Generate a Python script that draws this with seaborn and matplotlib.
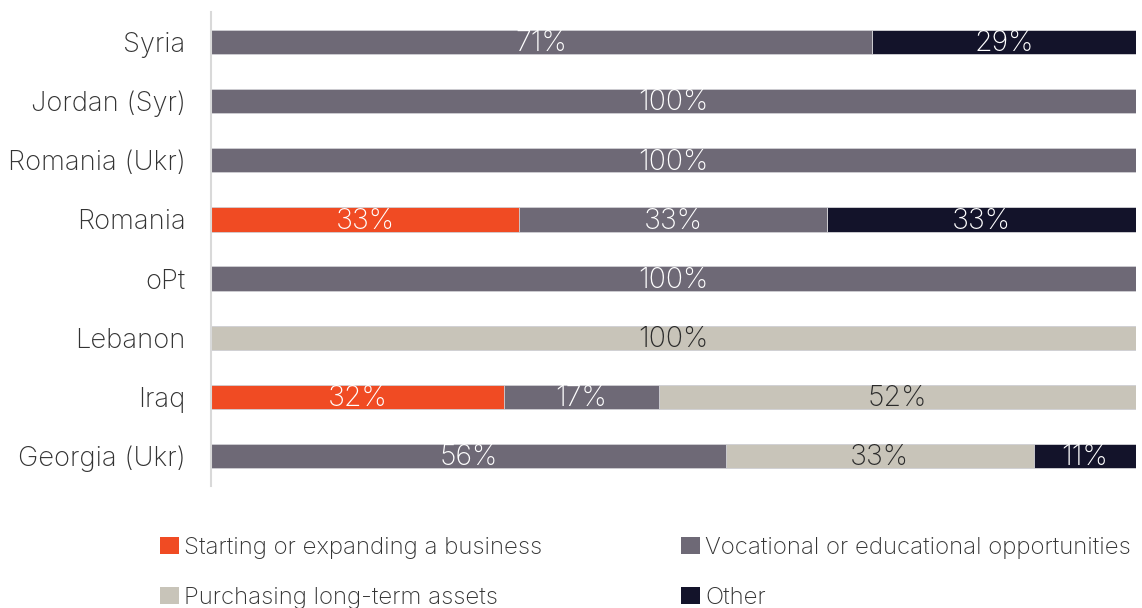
import numpy as np
import pandas as pd
import matplotlib
matplotlib.use("Agg")
import matplotlib.pyplot as plt
import seaborn as sns
from matplotlib.patches import Patch

# Share of responses by how the money would be used, per location
locations = ["Syria", "Jordan (Syr)", "Romania (Ukr)", "Romania", "oPt",
             "Lebanon", "Iraq", "Georgia (Ukr)"]
business = [0, 0, 0, 33.3, 0, 0, 31.6, 0]
vocational = [71.4, 100, 100, 33.3, 100, 0, 16.8, 55.6]
assets = [0, 0, 0, 0, 0, 100, 51.6, 33.3]
other = [28.6, 0, 0, 33.4, 0, 0, 0, 11.1]

series_names = ["Starting or expanding a business",
                "Vocational or educational opportunities",
                "Purchasing long-term assets",
                "Other"]
series_values = [business, vocational, assets, other]
series_colors = ["#F04B23", "#6E6976", "#C8C4B9", "#13132A"]
label_colors = ["white", "white", "#2b2b2b", "white"]

sns.set_theme(style="white")
plt.rcParams["font.family"] = ["Inter", "DejaVu Sans"]
plt.rcParams["font.weight"] = "light"

fig = plt.figure(figsize=(11.42, 6.08), dpi=100)
ax = fig.add_axes([0.185, 0.2013, 0.81, 0.7783])

vals = np.array(series_values, dtype=float)
cum = np.cumsum(vals, axis=0)

# Draw cumulative totals from the outermost segment inwards so each
# segment sits on top of the next one
for i in range(len(series_names) - 1, -1, -1):
    df = pd.DataFrame({"location": locations, "value": cum[i]})
    sns.barplot(data=df, y="location", x="value", orient="h",
                color=series_colors[i], saturation=1, width=0.41,
                edgecolor="#d4d4d8", linewidth=0.6, ax=ax, order=locations)

for i in range(len(series_names)):
    for j, loc in enumerate(locations):
        v = vals[i, j]
        if v <= 0:
            continue
        center = cum[i, j] - v / 2
        ax.text(center, j + 0.03, f"{round(v):d}%", ha="center", va="center",
                fontsize=20.5, color=label_colors[i], fontweight="light")

ax.set_xlim(0, 100)
ax.set_ylim(len(locations) - 0.5, -0.5)
ax.set_xlabel("")
ax.set_ylabel("")
ax.set_xticks([])
ax.tick_params(axis="y", length=0, pad=18.5, labelsize=19.7, labelcolor="#333333")
for lab in ax.get_yticklabels():
    lab.set_fontweight("light")
for side in ["top", "right", "bottom"]:
    ax.spines[side].set_visible(False)
ax.spines["left"].set_color("#d9d9d9")
ax.spines["left"].set_linewidth(1.5)

# Legend laid out row by row in two columns
order = [0, 2, 1, 3]
handles = [Patch(facecolor=series_colors[k], edgecolor="none") for k in order]
labels = [series_names[k] for k in order]
fig.legend(handles, labels, ncol=2, loc="upper left",
           bbox_to_anchor=(0.1215, 0.152), frameon=False, fontsize=17.3,
           handlelength=0.78, handleheight=0.7, handletextpad=0.2,
           columnspacing=5.8, labelspacing=1.15, labelcolor="#333333")

fig.savefig("out.png", dpi=100)
